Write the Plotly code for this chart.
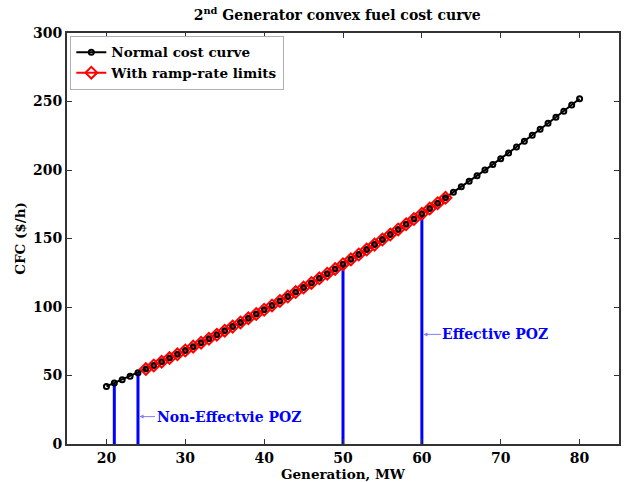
import plotly.graph_objects as go

# ---- data ----
gen_mw = [20, 21, 22, 23, 24, 25, 26, 27, 28, 29, 30, 31, 32, 33, 34, 35, 36, 37, 38, 39,
          40, 41, 42, 43, 44, 45, 46, 47, 48, 49, 50, 51, 52, 53, 54, 55, 56, 57, 58, 59,
          60, 61, 62, 63, 64, 65, 66, 67, 68, 69, 70, 71, 72, 73, 74, 75, 76, 77, 78, 79, 80]
cost_normal = [42.0, 44.47, 46.97, 49.51, 52.08, 54.69, 57.33, 60.01, 62.72, 65.47,
               68.25, 71.07, 73.92, 76.81, 79.73, 82.69, 85.68, 88.71, 91.77, 94.87,
               98.0, 101.17, 104.37, 107.61, 110.88, 114.19, 117.53, 120.91, 124.32, 127.77,
               131.25, 134.77, 138.32, 141.91, 145.53, 149.19, 152.88, 156.61, 160.37, 164.17,
               168.0, 171.87, 175.77, 179.71, 183.68, 187.69, 191.73, 195.81, 199.92, 204.07,
               208.25, 212.47, 216.72, 221.01, 225.33, 229.69, 234.08, 238.51, 242.97, 247.47, 252.0]
ramp_mw = [25, 26, 27, 28, 29, 30, 31, 32, 33, 34, 35, 36, 37, 38, 39, 40, 41, 42, 43, 44,
           45, 46, 47, 48, 49, 50, 51, 52, 53, 54, 55, 56, 57, 58, 59, 60, 61, 62, 63]
cost_ramp = [54.69, 57.33, 60.01, 62.72, 65.47, 68.25, 71.07, 73.92, 76.81, 79.73,
             82.69, 85.68, 88.71, 91.77, 94.87, 98.0, 101.17, 104.37, 107.61, 110.88,
             114.19, 117.53, 120.91, 124.32, 127.77, 131.25, 134.77, 138.32, 141.91, 145.53,
             149.19, 152.88, 156.61, 160.37, 164.17, 168.0, 171.87, 175.77, 179.71]
poz_mw = [21, 24, 50, 60]
poz_cost = [44.47, 52.08, 131.25, 168.0]
x_ticks = [20, 30, 40, 50, 60, 70, 80]
y_ticks = [0, 50, 100, 150, 200, 250, 300]

FONT = "DejaVu Serif"
fig = go.Figure()

# POZ vertical lines
for px, pc in zip(poz_mw, poz_cost):
    fig.add_trace(go.Scatter(x=[px, px], y=[0, pc], mode="lines",
                             line=dict(color="#0000FF", width=3),
                             showlegend=False, hoverinfo="skip"))

fig.add_trace(go.Scatter(x=gen_mw, y=cost_normal, mode="lines+markers",
                         name="Normal cost curve",
                         line=dict(color="black", width=2),
                         marker=dict(symbol="circle-open", size=5, color="black",
                                     line=dict(width=2, color="black"))))
fig.add_trace(go.Scatter(x=ramp_mw, y=cost_ramp, mode="lines+markers",
                         name="With ramp-rate limits",
                         line=dict(color="red", width=2),
                         marker=dict(symbol="diamond-open", size=9, color="red",
                                     line=dict(width=2, color="red"))))
# black markers visible inside red diamonds
fig.add_trace(go.Scatter(x=ramp_mw, y=cost_ramp, mode="markers",
                         marker=dict(symbol="circle-open", size=4, color="black",
                                     line=dict(width=1.5, color="black")),
                         showlegend=False, hoverinfo="skip"))

# annotations with arrows (arrow from label to POZ line)
ann_font = dict(family=FONT, size=14, color="#0000FF", weight="bold")
fig.add_annotation(x=24.2, y=20, xref="x", yref="y", text="Non-Effectvie POZ",
                   showarrow=True, ax=89, ay=0, arrowhead=2, arrowsize=0.8,
                   arrowwidth=1, arrowcolor="#7f7fff", standoff=0,
                   font=ann_font)
fig.add_annotation(x=60.2, y=80, xref="x", yref="y", text="Effective POZ",
                   showarrow=True, ax=72, ay=0, arrowhead=2, arrowsize=0.8,
                   arrowwidth=1, arrowcolor="#7f7fff", standoff=0,
                   font=ann_font)

axis_common = dict(showgrid=False, zeroline=False, showline=True, linecolor="#333333",
                   linewidth=2, mirror="allticks", ticks="inside", ticklen=5,
                   tickcolor="#333333", tickwidth=1, automargin=False,
                   tickfont=dict(family=FONT, size=14, color="black", weight="bold"))

fig.update_layout(
    width=629, height=482,
    margin=dict(l=67, r=10, t=33, b=38),
    paper_bgcolor="white", plot_bgcolor="white",
    title=dict(text="2<sup>nd</sup> Generator convex fuel cost curve",
               x=0.536, xanchor="center", y=0.968, yanchor="middle",
               font=dict(family=FONT, size=14, color="black", weight="bold")),
    xaxis=dict(range=[15, 85], tickvals=x_ticks,
               title=dict(text="Generation, MW", standoff=4,
                          font=dict(family=FONT, size=13.5, color="black", weight="bold")),
               **axis_common),
    yaxis=dict(range=[0, 300], tickvals=y_ticks,
               title=dict(text="CFC ($/h)", standoff=4,
                          font=dict(family=FONT, size=13.5, color="black", weight="bold")),
               **axis_common),
    legend=dict(x=0.006, y=0.993, xanchor="left", yanchor="top",
                bgcolor="white", bordercolor="#b0b0b0", borderwidth=1,
                font=dict(family=FONT, size=13.5, color="black", weight="bold"),
                itemwidth=30, tracegroupgap=0),
    showlegend=True,
)

fig.write_html("out.html")
